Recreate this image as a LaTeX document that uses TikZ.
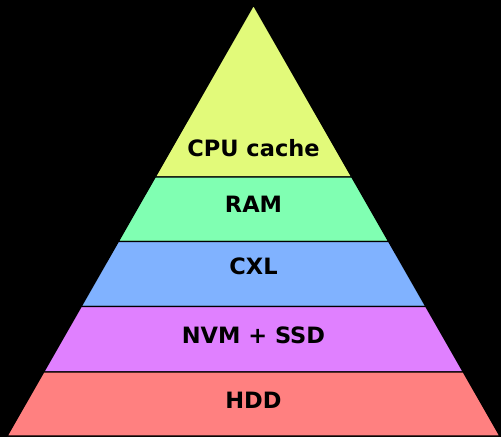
\documentclass[tikz,border=0pt]{standalone}
\usepackage{fontspec}
\setsansfont{DejaVu Sans}
\begin{document}
\begin{tikzpicture}[x=1pt,y=1pt,
  layer/.style={draw=black, line width=1.4pt, line join=miter},
  lbl/.style={font=\sffamily\bfseries\fontsize{22.5}{26}\selectfont, text=black, anchor=base, inner sep=0pt}]
\definecolor{cacheC}{RGB}{226,250,122}
\definecolor{ramC}{RGB}{128,255,178}
\definecolor{cxlC}{RGB}{128,178,255}
\definecolor{nvmC}{RGB}{224,128,255}
\definecolor{hddC}{RGB}{255,128,128}
% background
\fill[black] (0,0) rectangle (501,437);
\useasboundingbox (0,0) rectangle (501,437);
% apex and edge points of each level boundary
\coordinate (apex) at (253.5,432);
\coordinate (l1) at (155.13,260);   \coordinate (r1) at (351.87,260);
\coordinate (l2) at (118.24,195.5); \coordinate (r2) at (388.76,195.5);
\coordinate (l3) at (81.06,130.5);  \coordinate (r3) at (425.94,130.5);
\coordinate (l4) at (43.6,65);      \coordinate (r4) at (463.4,65);
\coordinate (l5) at (7,1);          \coordinate (r5) at (500,1);
% levels of the pyramid
\filldraw[layer, fill=cacheC] (apex) -- (r1) -- (l1) -- cycle;
\filldraw[layer, fill=ramC] (l1) -- (r1) -- (r2) -- (l2) -- cycle;
\filldraw[layer, fill=cxlC] (l2) -- (r2) -- (r3) -- (l3) -- cycle;
\filldraw[layer, fill=nvmC] (l3) -- (r3) -- (r4) -- (l4) -- cycle;
\filldraw[layer, fill=hddC] (l4) -- (r4) -- (r5) -- (l5) -- cycle;
% labels
\node[lbl] (cache) at (253.5,280) {CPU cache};
\node[lbl] (ram) at (253.5,224) {RAM};
\node[lbl] (cxl) at (253.5,162.7) {CXL};
\node[lbl] (nvm) at (253.5,93.7) {NVM + SSD};
\node[lbl] (hdd) at (253.5,28.7) {HDD};
\end{tikzpicture}
\end{document}
